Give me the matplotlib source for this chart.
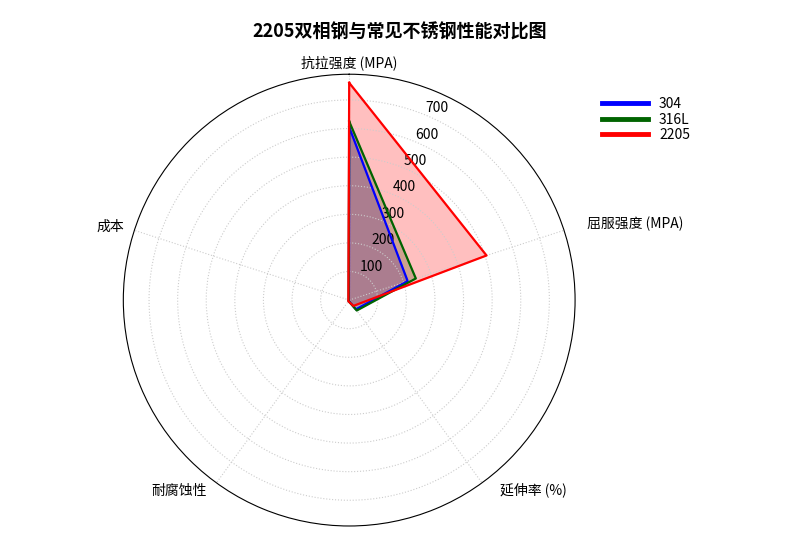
import numpy as np
import matplotlib
matplotlib.use("Agg")
import matplotlib.pyplot as plt

plt.rcParams["font.family"] = ["Noto Sans CJK SC", "DejaVu Sans"]

categories = ["抗拉强度 (MPA)", "屈服强度 (MPA)", "延伸率 (%)", "耐腐蚀性", "成本"]
grades = ["304", "316L", "2205"]
values_304 = [605, 215, 40, 3, 1]
values_316l = [625, 245, 45, 4, 2]
values_2205 = [760, 505, 25, 5, 3]
colors = ["blue", "darkgreen", "red"]
r_ticks = [100, 200, 300, 400, 500, 600, 700]
r_max = 790

n = len(categories)
angles = np.linspace(0, 2 * np.pi, n, endpoint=False)
closed = np.concatenate([angles, angles[:1]])

fig = plt.figure(figsize=(8, 5.34), dpi=100)
ax = fig.add_axes([0.154, 0.015, 0.565, 0.846], polar=True)
ax.set_theta_offset(np.pi / 2)
ax.set_theta_direction(-1)

for name, vals, c in zip(grades, [values_304, values_316l, values_2205], colors):
    v = vals + vals[:1]
    ax.plot(closed, v, color=c, linewidth=1.6, label=name)
    ax.fill(closed, v, color=c, alpha=0.25)

ax.set_ylim(0, r_max)
ax.set_yticks(r_ticks)
ax.set_yticklabels([str(t) for t in r_ticks], fontsize=10)
ax.set_rlabel_position(22.5)
ax.set_xticks(angles)
ax.set_xticklabels([])
ax.grid(True, color="#cccccc", linestyle=":", linewidth=0.8)

# category labels placed by hand: left side right-aligned, right side left-aligned
offsets = [(0, 12), (23, 6), (18, -7), (-10, -8), (-10, 3)]
for cat, ang, (dx, dy) in zip(categories, angles, offsets):
    if np.isclose(ang, 0):
        ha = "center"
    elif ang < np.pi:
        ha = "left"
    else:
        ha = "right"
    ax.annotate(cat, xy=(ang, r_max), xytext=(dx, dy), textcoords="offset pixels",
                ha=ha, va="center", fontsize=10, annotation_clip=False)

leg = ax.legend(loc="upper left", bbox_to_anchor=(1.032, 0.977), frameon=False,
                fontsize=10, handlelength=3.3, labelspacing=0.1, handletextpad=0.8)
for h in leg.get_lines():
    h.set_linewidth(3.5)

fig.suptitle("2205双相钢与常见不锈钢性能对比图", fontsize=13, fontweight="bold", x=0.5, y=0.958)

fig.savefig("out.png", dpi=100)
